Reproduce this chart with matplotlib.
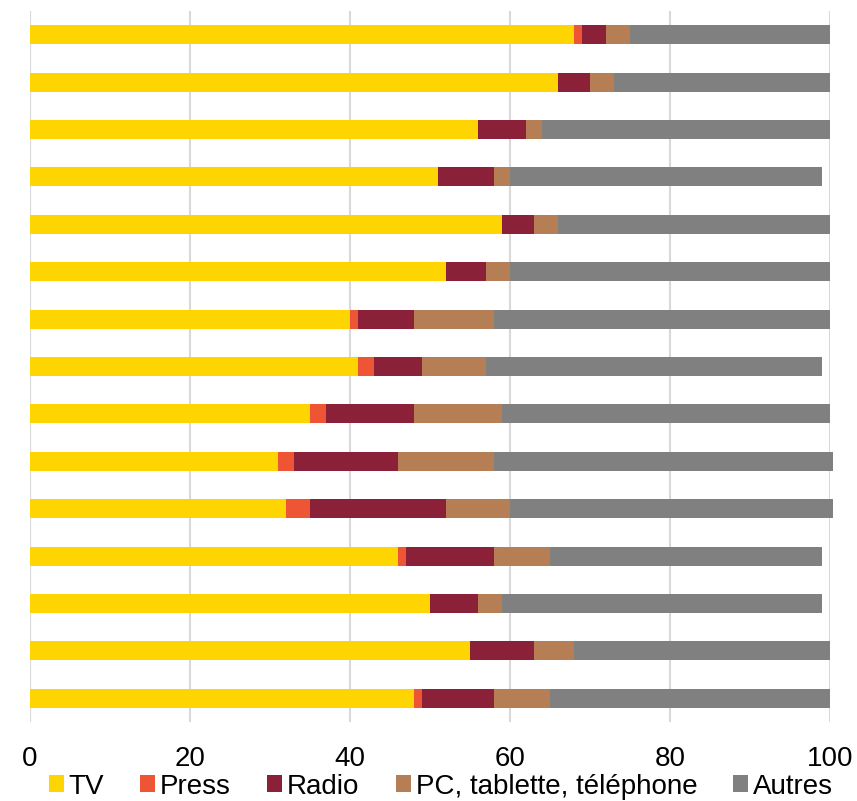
import numpy as np
import matplotlib.pyplot as plt

plt.rcParams['font.family'] = ['Liberation Sans', 'DejaVu Sans']

series = ['TV', 'Press', 'Radio', 'PC, tablette, téléphone', 'Autres']
colors = ['#FED501', '#EE5535', '#8B2139', '#B67E55', '#808080']

# one value per bar, top to bottom
tv = [68, 66, 56, 51, 59, 52, 40, 41, 35, 31, 32, 46, 50, 55, 48]
press = [1, 0, 0, 0, 0, 0, 1, 2, 2, 2, 3, 1, 0, 0, 1]
radio = [3, 4, 6, 7, 4, 5, 7, 6, 11, 13, 17, 11, 6, 8, 9]
pc = [3, 3, 2, 2, 3, 3, 10, 8, 11, 12, 8, 7, 3, 5, 7]
autres = [25, 27, 36, 39, 34, 40, 42, 42, 41, 42.4, 40.4, 34, 40, 32, 35]

data = [tv, press, radio, pc, autres]

fig = plt.figure(figsize=(8.57, 8.01), dpi=100)
ax = fig.add_axes([0.035, 0.0986, 0.9335, 0.8876])

y = np.arange(len(tv))
left = np.zeros(len(tv))
for name, vals, c in zip(series, data, colors):
    vals = np.array(vals, dtype=float)
    bars = ax.barh(y, vals, left=left, height=0.4, color=c, label=name, zorder=3)
    for b in bars:
        b.set_clip_on(False)
    left += vals

ax.set_ylim(14.5, -0.5)
ax.set_xlim(0, 100)
ax.set_xticks([0, 20, 40, 60, 80, 100])
ax.set_yticks([])
ax.grid(axis='x', color='#D9D9D9', linewidth=1.5, zorder=0)
for s in ax.spines.values():
    s.set_visible(False)
ax.axvline(0, color='#D9D9D9', linewidth=1.5, zorder=0)
ax.tick_params(axis='x', length=0, labelsize=20, pad=17)

fig.legend(loc='center', bbox_to_anchor=(0.5146, 0.018), ncol=5, frameon=False,
           fontsize=20, handlelength=0.54, handleheight=0.54, handletextpad=0.18,
           columnspacing=1.3, borderaxespad=0, borderpad=0)

fig.savefig('out.png', dpi=100)
